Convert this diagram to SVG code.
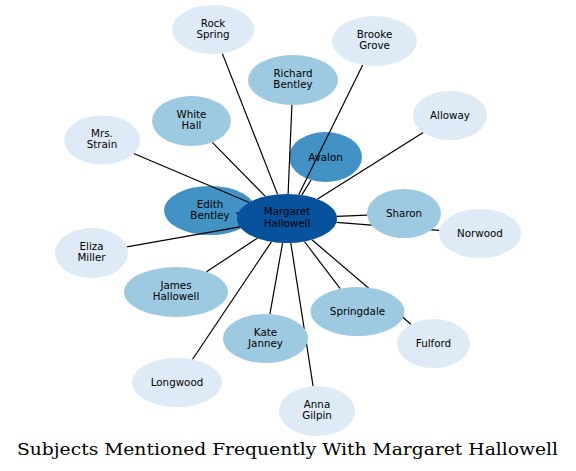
<svg xmlns="http://www.w3.org/2000/svg" width="576" height="471" viewBox="0 0 576 471">
<style>
.n0{fill:#08519c}.n1{fill:#4292c6}.n2{fill:#9ecae1}.n3{fill:#deebf7}
text{font-family:"DejaVu Sans","Liberation Sans",sans-serif;font-size:10.3px;fill:#000;text-anchor:middle}
.e line{stroke:#000;stroke-width:1.2;fill:none}
.title{font-family:"DejaVu Serif","Liberation Serif",serif;font-size:16px;text-anchor:start}
</style>
<rect width="576" height="471" fill="#fff"/>
<g id="node-edith-bentley"><ellipse class="n1" cx="210" cy="210.5" rx="46" ry="24.5"/><text x="210" y="207.5">Edith</text><text x="210" y="218.5">Bentley</text></g>
<g id="node-avalon"><ellipse class="n1" cx="325.5" cy="157" rx="36.5" ry="25"/><text x="325.5" y="160.5">Avalon</text></g>
<g id="edges" class="e">
<line x1="277.6" y1="194.4" x2="222.3" y2="53.4"/>
<line x1="298.7" y1="194.7" x2="362.7" y2="65"/>
<line x1="288.1" y1="194" x2="291.9" y2="105"/>
<line x1="301.7" y1="195.1" x2="311.1" y2="180"/>
<line x1="265.4" y1="196.4" x2="212.3" y2="142.3"/>
<line x1="249.2" y1="202.5" x2="133.7" y2="153.5"/>
<line x1="317.6" y1="199.1" x2="423.2" y2="132.4"/>
<line x1="236" y1="213.1" x2="255.1" y2="215.2"/>
<line x1="240" y1="226.8" x2="126.8" y2="246.8"/>
<line x1="257.3" y1="238.2" x2="206.5" y2="271.8"/>
<line x1="271.4" y1="241.8" x2="192.4" y2="359.5"/>
<line x1="282.6" y1="242.9" x2="269.9" y2="314.1"/>
<line x1="290.8" y1="242.9" x2="313.1" y2="386.1"/>
<line x1="304.4" y1="241.5" x2="340.2" y2="288.7"/>
<line x1="311.9" y1="239.7" x2="410.9" y2="324.3"/>
<line x1="336.8" y1="216.4" x2="367.1" y2="215.1"/>
<line x1="336.4" y1="222.3" x2="439.3" y2="230.3"/>
</g>
<g id="node-rock-spring"><ellipse class="n3" cx="213" cy="29.5" rx="41" ry="24.5"/><text x="213" y="26.5">Rock</text><text x="213" y="37.5">Spring</text></g>
<g id="node-brooke-grove"><ellipse class="n3" cx="374.5" cy="41" rx="42.5" ry="25"/><text x="374.5" y="38">Brooke</text><text x="374.5" y="49">Grove</text></g>
<g id="node-richard-bentley"><ellipse class="n2" cx="293" cy="80" rx="45" ry="25"/><text x="293" y="77">Richard</text><text x="293" y="88">Bentley</text></g>
<g id="node-alloway"><ellipse class="n3" cx="450" cy="115.5" rx="37" ry="24.5"/><text x="450" y="119">Alloway</text></g>
<g id="node-white-hall"><ellipse class="n2" cx="191.5" cy="121" rx="39.5" ry="25"/><text x="191.5" y="118">White</text><text x="191.5" y="129">Hall</text></g>
<g id="node-mrs-strain"><ellipse class="n3" cx="102" cy="140" rx="38" ry="24.5"/><text x="102" y="137">Mrs.</text><text x="102" y="148">Strain</text></g>
<g id="node-sharon"><ellipse class="n2" cx="404" cy="213.5" rx="37" ry="24.5"/><text x="404" y="217">Sharon</text></g>
<g id="node-norwood"><ellipse class="n3" cx="480" cy="233.5" rx="41" ry="24.5"/><text x="480" y="237">Norwood</text></g>
<g id="node-eliza-miller"><ellipse class="n3" cx="91.5" cy="253" rx="36.5" ry="25"/><text x="91.5" y="250">Eliza</text><text x="91.5" y="261">Miller</text></g>
<g id="node-james-hallowell"><ellipse class="n2" cx="176" cy="292" rx="52" ry="25"/><text x="176" y="289">James</text><text x="176" y="300">Hallowell</text></g>
<g id="node-springdale"><ellipse class="n2" cx="357.5" cy="311.5" rx="47" ry="24.5"/><text x="357.5" y="315">Springdale</text></g>
<g id="node-fulford"><ellipse class="n3" cx="433.5" cy="343.5" rx="36.5" ry="24.5"/><text x="433.5" y="347">Fulford</text></g>
<g id="node-kate-janney"><ellipse class="n2" cx="265.5" cy="338.5" rx="42.5" ry="24.5"/><text x="265.5" y="335.5">Kate</text><text x="265.5" y="346.5">Janney</text></g>
<g id="node-longwood"><ellipse class="n3" cx="177" cy="382.5" rx="45" ry="24.5"/><text x="177" y="386">Longwood</text></g>
<g id="node-anna-gilpin"><ellipse class="n3" cx="317" cy="411" rx="38" ry="25"/><text x="317" y="408">Anna</text><text x="317" y="419">Gilpin</text></g>
<g id="node-margaret-hallowell"><ellipse class="n0" cx="287" cy="218.5" rx="50" ry="24.5"/><text x="287" y="215">Margaret</text><text x="287" y="226.5">Hallowell</text></g>
<text class="title" x="17" y="455" textLength="541" lengthAdjust="spacingAndGlyphs">Subjects Mentioned Frequently With Margaret Hallowell</text>
</svg>
